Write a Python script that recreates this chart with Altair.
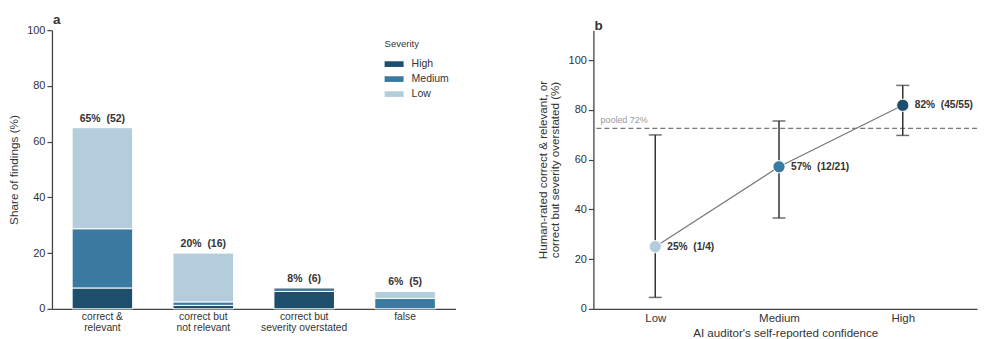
import altair as alt
import pandas as pd

# ---------------- data (panel a) ----------------
categories = ["correct &|relevant", "correct but|not relevant",
              "correct but|severity overstated", "false"]
severities = ["High", "Medium", "Low"]
high_pct = [7.5, 1.25, 6.25, 0.0]
medium_pct = [21.25, 1.25, 1.25, 3.75]
low_pct = [36.25, 17.5, 0.0, 2.5]
bar_totals = [65.0, 20.0, 7.5, 6.25]
bar_labels = ["65%\u00a0\u00a0(52)", "20%\u00a0\u00a0(16)", "8%\u00a0\u00a0(6)", "6%\u00a0\u00a0(5)"]
sev_colors = ["#1d4e6c", "#3b7aa0", "#b4cddc"]

# ---------------- data (panel b) ----------------
conf_levels = ["Low", "Medium", "High"]
conf_pos = [0, 1, 2]
rate = [25.0, 57.1, 81.8]
ci_lo = [4.6, 36.5, 69.7]
ci_hi = [69.9, 75.5, 89.8]
point_labels = ["25%\u00a0\u00a0(1/4)", "57%\u00a0\u00a0(12/21)", "82%\u00a0\u00a0(45/55)"]
conf_colors = ["#b4cddc", "#3b7aa0", "#1d4e6c"]
pooled = [72.5]
pooled_label = ["pooled 72%"]

FONT = "Liberation Sans"
DARK = "#333333"
AXIS = "#444444"

# ---------- panel a ----------
rows = []
for i, c in enumerate(categories):
    for k, (s, vals) in enumerate(zip(severities, [high_pct, medium_pct, low_pct])):
        if vals[i] > 0:
            rows.append({"category": c, "severity": s, "share": vals[i], "sev_order": k})
df_a = pd.DataFrame(rows)
df_tot = pd.DataFrame({"category": categories, "total": bar_totals, "label": bar_labels})

x_a = alt.X("category:N", sort=categories,
            scale=alt.Scale(domain=categories, paddingInner=0.4, paddingOuter=0.2),
            axis=alt.Axis(title=None, labelAngle=0, labelExpr="split(datum.label, '|')",
                          ticks=False, labelFontSize=10.3, labelPadding=3, labelLineHeight=11))

bars = alt.Chart(df_a).mark_bar(stroke="white", strokeWidth=1).encode(
    x=x_a,
    y=alt.Y("share:Q", stack="zero", scale=alt.Scale(domain=[0, 100], nice=False),
            axis=alt.Axis(title="Share of findings (%)", values=[0, 20, 40, 60, 80, 100],
                          titleFontSize=11.8, titlePadding=7)),
    color=alt.Color("severity:N", sort=severities,
                    scale=alt.Scale(domain=severities, range=sev_colors),
                    legend=alt.Legend(title="Severity", orient="none", legendX=333, legendY=9,
                                      titleFontSize=9.5, titleFontWeight="normal", titleColor=DARK,
                                      labelFontSize=10.5, labelColor=DARK, labelOffset=8,
                                      symbolType="M-1,-0.3H1V0.3H-1Z", symbolSize=361,
                                      symbolStrokeWidth=0, rowPadding=-5, titlePadding=6)),
    order=alt.Order("sev_order:Q", sort="ascending"),
)

bar_text = alt.Chart(df_tot).mark_text(dy=-9, fontWeight="bold", fontSize=10.5, color=DARK,
                                       baseline="middle").encode(
    x=x_a, y=alt.Y("total:Q"), text="label:N")

panel_a = alt.layer(bars, bar_text).properties(
    width=404, height=279,
    title=alt.TitleParams("a", anchor="start", frame="group", fontSize=13.5,
                          fontWeight="bold", color=DARK, offset=-2, dx=1))

# ---------- panel b ----------
df_b = pd.DataFrame({"pos": conf_pos, "conf": conf_levels, "rate": rate,
                     "lo": ci_lo, "hi": ci_hi, "label": point_labels})
df_pool = pd.DataFrame({"y": pooled, "x": [-0.5], "label": pooled_label})

label_expr = "[" + ",".join("'" + c + "'" for c in conf_levels) + "][datum.value]"
x_b = alt.X("pos:Q", scale=alt.Scale(domain=[-0.5, 2.6], nice=False, zero=False),
            axis=alt.Axis(values=conf_pos, labelExpr=label_expr, ticks=False,
                          title="AI auditor's self-reported confidence",
                          labelFontSize=11.5, labelPadding=4, titleFontSize=11.6, titlePadding=3))
y_b = alt.Y("rate:Q", scale=alt.Scale(domain=[0, 112], nice=False),
            axis=alt.Axis(values=[0, 20, 40, 60, 80, 100],
                          title=["Human-rated correct & relevant, or",
                                 "correct but severity overstated (%)"],
                          titleFontSize=11.6, titlePadding=8, titleLineHeight=12))

base_b = alt.Chart(df_b)
pool_rule = alt.Chart(df_pool).mark_rule(strokeDash=[5, 3], color="#777777", strokeWidth=1.3).encode(
    y=alt.Y("y:Q"))
pool_text = alt.Chart(df_pool).mark_text(align="left", baseline="bottom", dx=7, dy=-3,
                                         color="#999999", fontSize=9).encode(
    x=alt.X("x:Q"), y=alt.Y("y:Q"), text="label:N")
err = base_b.mark_rule(color=DARK, strokeWidth=1.5).encode(x=x_b, y="lo:Q", y2="hi:Q")
cap_lo = base_b.mark_tick(orient="horizontal", size=13, thickness=1.5, color=DARK).encode(
    x=x_b, y="lo:Q")
cap_hi = base_b.mark_tick(orient="horizontal", size=13, thickness=1.5, color=DARK).encode(
    x=x_b, y="hi:Q")
line = base_b.mark_line(color="#777777", strokeWidth=1.2).encode(x=x_b, y=y_b)
pts = base_b.mark_circle(size=150, opacity=1, stroke="white", strokeWidth=1).encode(
    x=x_b, y=y_b,
    color=alt.Color("conf:N", scale=alt.Scale(domain=conf_levels, range=conf_colors), legend=None))
pt_text = base_b.mark_text(align="left", baseline="middle", dx=12, fontWeight="bold",
                           fontSize=10.2, color=DARK).encode(x=x_b, y=y_b, text="label:N")

panel_b = alt.layer(line, pool_rule, pool_text, err, cap_lo, cap_hi, pts, pt_text).properties(
    width=384, height=279,
    title=alt.TitleParams("b", anchor="start", frame="group", fontSize=13.5,
                          fontWeight="bold", color=DARK, offset=-2, dx=1))

chart = alt.hconcat(panel_a, panel_b, spacing=81).resolve_scale(
    color="independent").resolve_legend(color="independent").properties(
    padding={"left": 0, "top": 4, "right": 0, "bottom": 0}
).configure(font=FONT).configure_view(stroke=None).configure_axis(
    grid=False, domainColor=AXIS, tickColor=AXIS, domainWidth=1.3, tickWidth=1.2, tickSize=5,
    labelColor=DARK, titleColor=DARK, labelFontSize=11, titleFontWeight="normal", labelFont=FONT,
    titleFont=FONT)

chart.save("out.html", embed_options={"renderer": "svg", "actions": False})
